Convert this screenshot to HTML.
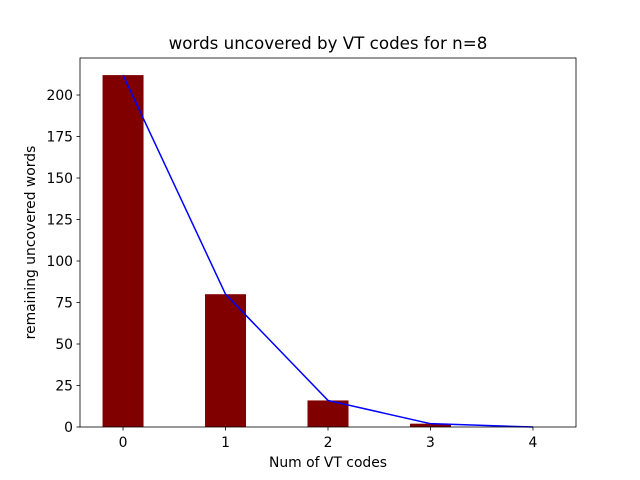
<!DOCTYPE html>
<html><head><meta charset="utf-8"><style>body{margin:0;background:#fff}svg{display:block;font-family:"DejaVu Sans","Liberation Sans",sans-serif}</style></head>
<body>
<svg id="chart" width="640" height="480"></svg>
<script>
const categories = [0, 1, 2, 3, 4];
const barValues = [212, 80, 16, 2, 0];
const lineValues = [212, 80, 16, 2, 0];
const yTicks = [0, 25, 50, 75, 100, 125, 150, 175, 200];
const xTicks = [0, 1, 2, 3, 4];

const L=80,R=576,T=58,B=427;
const xMin=-0.42,xMax=4.42,yMin=0,yMax=222.3;
const sx=v=>L+(v-xMin)/(xMax-xMin)*(R-L);
const sy=v=>B-(v-yMin)/(yMax-yMin)*(B-T);
const svg=document.getElementById('chart');
const NS='http://www.w3.org/2000/svg';
function mk(tag,attrs,text){const e=document.createElementNS(NS,tag);for(const k in attrs)e.setAttribute(k,attrs[k]);if(text!==undefined)e.textContent=text;svg.appendChild(e);return e;}

categories.forEach((c,i)=>{
  const x0=sx(c-0.2),x1=sx(c+0.2),y=sy(barValues[i]);
  const r=mk('rect',{x:x0,y:y,width:x1-x0,height:B-y,fill:'#800000'});
  
  
});
const pl=mk('polyline',{points:categories.map((c,i)=>sx(c)+','+sy(lineValues[i])).join(' '),fill:'none',stroke:'#0000ff','stroke-width':1.5});



const frame=mk('rect',{x:L,y:T,width:R-L,height:B-T,fill:'none',stroke:'#000','stroke-width':0.8});



yTicks.forEach(t=>{
  const y=sy(t);
  mk('line',{x1:L-3.5,x2:L,y1:y,y2:y,stroke:'#000','stroke-width':0.8});
  const tx=mk('text',{x:L-7,y:y+5,'text-anchor':'end','font-size':13.9},t);
  
  
});
xTicks.forEach(t=>{
  const x=sx(t);
  mk('line',{x1:x,x2:x,y1:B,y2:B+3.5,stroke:'#000','stroke-width':0.8});
  const tx=mk('text',{x:x,y:B+20,'text-anchor':'middle','font-size':13.9},t);
  
  
});
const title=mk('text',{x:(L+R)/2,y:T-9,'text-anchor':'middle','font-size':16.7},'words uncovered by VT codes for n=8');


const xl=mk('text',{x:(L+R)/2,y:467,'text-anchor':'middle','font-size':13.9},'Num of VT codes');


const yl=mk('text',{x:0,y:0,transform:'translate(35,'+((T+B)/2)+') rotate(-90)','text-anchor':'middle','font-size':13.9},'remaining uncovered words');


</script>
</body></html>
